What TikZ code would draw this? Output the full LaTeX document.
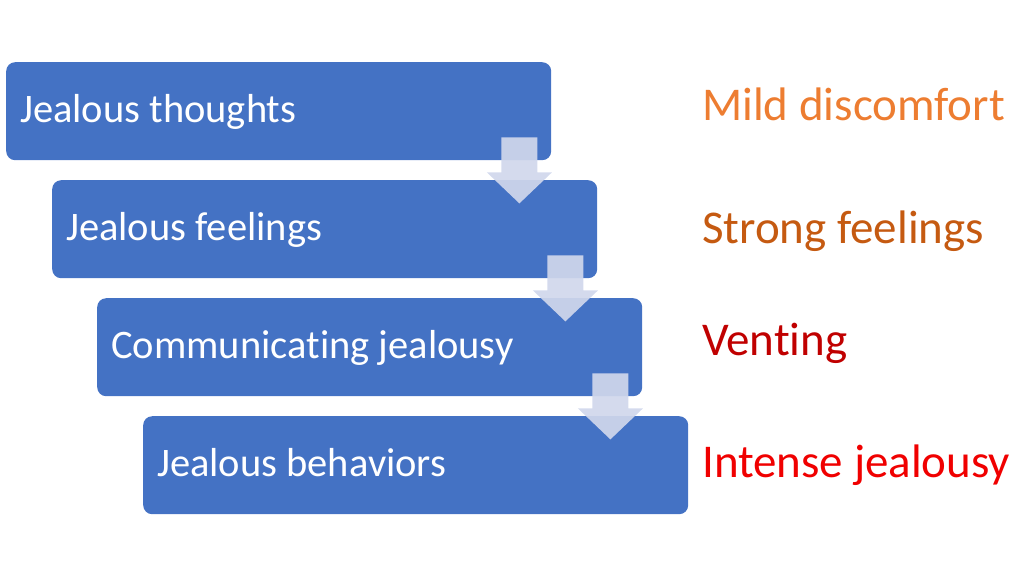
\documentclass[tikz,border=0pt]{standalone}
\usepackage{fontspec}
\setmainfont{Carlito}[Ligatures=NoCommon]
\usetikzlibrary{calc}
\definecolor{boxblue}{HTML}{4472C4}
\definecolor{arrowcol}{HTML}{D0D7EC}
\definecolor{lblA}{HTML}{ED7D31}
\definecolor{lblB}{HTML}{C55A11}
\definecolor{lblC}{HTML}{C00000}
\definecolor{lblD}{HTML}{F00000}
\newcommand\flowarrow[1]{%
  \fill[arrowstyle] ($(#1.south east)+(-50,-23)$) -- ++(36,0) -- ++(0,35) -- ++(14.5,0)
    -- ($(#1.south east)+(-32,43)$) -- ($(#1.south east)+(-64.5,12)$) -- ++(14.5,0) -- cycle;}
\begin{document}
\begin{tikzpicture}[x=1pt,y=-1pt,
  stepbox/.style={fill=boxblue, rounded corners=9pt, minimum width=545pt, minimum height=98pt, anchor=north west, inner sep=0pt},
  boxtext/.style={text=white, font=\fontsize{40.5}{48}\selectfont, anchor=base west, inner sep=0pt},
  sidelabel/.style={font=\fontsize{47}{56}\selectfont, anchor=base west, inner sep=0pt},
  arrowstyle/.style={fill=arrowcol, fill opacity=0.92}]
\useasboundingbox (0,0) rectangle (1024,576);
\node[stepbox] (b1) at (6,62) {};
\node[stepbox] (b2) at (52,180) {};
\node[stepbox] (b3) at (97,298) {};
\node[stepbox] (b4) at (143,416) {};
\flowarrow{b1}
\flowarrow{b2}
\flowarrow{b3}
\node[boxtext] (t1) at ($(b1.north west)+(14,60)$) {Jealous thoughts};
\node[boxtext] (t2) at ($(b2.north west)+(14,60)$) {Jealous feelings};
\node[boxtext] (t3) at ($(b3.north west)+(14,60)$) {Communicating jealousy};
\node[boxtext] (t4) at ($(b4.north west)+(14,60)$) {Jealous behaviors};
\node[sidelabel, text=lblA] (l1) at (702,120) {Mild discomfort};
\node[sidelabel, text=lblB] (l2) at (702,243) {Strong feelings};
\node[sidelabel, text=lblC] (l3) at (702,355) {Venting};
\node[sidelabel, text=lblD] (l4) at (702,477) {Intense jealousy};
\end{tikzpicture}
\end{document}
